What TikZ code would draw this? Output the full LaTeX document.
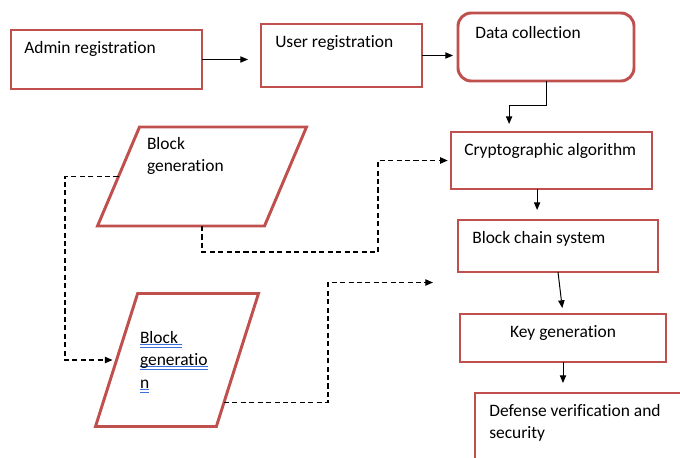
\documentclass[tikz,border=0pt]{standalone}
\usepackage{fontspec}
\setmainfont{Carlito}[Ligatures=NoCommon]
\usetikzlibrary{arrows.meta, positioning, calc, shapes.geometric}
\definecolor{boxred}{RGB}{192,80,77}
\definecolor{spellblue}{RGB}{60,110,220}
\newlength{\spellwd}
\newcommand{\spelluline}[1]{\leavevmode\settowidth{\spellwd}{#1}%
    \rlap{\textcolor{spellblue}{\rule[-1pt]{\spellwd}{0.45pt}%
    \hspace{-\spellwd}\rule[-3pt]{\spellwd}{0.45pt}}}#1}

\begin{document}
\begin{tikzpicture}[
    box/.style={rectangle, draw=boxred, line width=2.1pt,
                anchor=north west, outer sep=0pt, inner sep=0pt},
    txt/.style={anchor=north west, inner xsep=0.35cm,
                inner ysep=0.27cm, align=left,
                font=\fontsize{12.4pt}{16pt}\selectfont},
    para/.style={trapezium, draw=boxred, line width=2.1pt,
                 trapezium stretches body, inner sep=0pt,
                 outer sep=0pt, font=\fontsize{12.4pt}{16pt}\selectfont},
    arr/.style={-{Triangle[length=5.5pt, width=4.5pt]}, line width=0.7pt},
    dasharr/.style={arr, line width=0.95pt, dash pattern=on 3.6pt off 2.4pt}
]
    \clip (0,0) rectangle (17,-11.425);

    \node[box, minimum width=4.775cm, minimum height=1.475cm,
          label={[txt, inner xsep=0.325cm]north west:Admin registration}]
        (admin) at (0.275,-0.75) {};
    \node[box, minimum width=4.025cm, minimum height=1.575cm,
          label={[txt]north west:User registration}]
        (user) at (6.525,-0.6) {};
    \node[box, rounded corners=0.33cm, minimum width=4.4cm, minimum height=1.7cm,
          label={[txt, inner xsep=0.425cm, inner ysep=0.32cm]north west:Data collection}]
        (data) at (11.45,-0.325) {};
    \node[box, minimum width=5.025cm, minimum height=1.425cm,
          label={[txt, inner xsep=0.325cm]north west:Cryptographic algorithm}]
        (crypto) at (11.275,-3.3) {};
    \node[box, minimum width=5cm, minimum height=1.3cm,
          label={[txt]north west:Block chain system}]
        (chain) at (11.45,-5.5) {};
    \node[box, minimum width=5.15cm, minimum height=1.2cm,
          label={[txt, anchor=north]north:Key generation}]
        (key) at (11.5,-7.85) {};
    \node[box, minimum width=5.75cm, minimum height=2.25cm,
          label={[txt]north west:Defense verification and\\security}]
        (defense) at (11.875,-9.825) {};

    \node[para, trapezium left angle=62, trapezium right angle=118,
          minimum width=5.225cm, minimum height=2.475cm] (gen1) at (5.05,-4.4125)
        {\parbox[t][1.975cm][t]{2.75cm}{Block\\generation}};
    \node[para, trapezium left angle=54, trapezium right angle=126,
          minimum width=4.075cm, minimum height=3.325cm] (gen2) at (4.425,-9)
        {\parbox[t][1.45cm][t]{1.85cm}{\spelluline{Block~}\\
         \spelluline{generatio}\\\spelluline{n}}};

    \coordinate (loose) at (10.825,-7.0625);

    \draw[arr, shorten >=0.325cm] (admin.east) -- (admin.east -| user.west);
    \draw[arr, shorten >=0.125cm] (user.east) -- (user.east -| data.west);
    \draw[arr, shorten >=0.2cm] (data.south) -- ++(0,-0.6)
        -| ($(crypto.north)+(-1.06,0)$);
    \draw[arr, shorten >=0.25cm] ([xshift=-0.36cm]crypto.south)
        -- ([xshift=-0.36cm]crypto.south |- chain.north);
    \draw[arr, shorten >=0.15cm] (chain.south) -- (key.north);
    \draw[arr, shorten >=0.25cm] (key.south) -- (key.south |- defense.north);

    \draw[dasharr, shorten >=0.1cm] (gen1.west) -- ++(-1.34,0) |- (gen2.west);
    \draw[dasharr, shorten >=0.08cm] (gen1.south) -- ++(0,-0.65)
        -| ($(crypto.west)+(-1.825,0)$) -- (crypto.west);
    \draw[dasharr] ($(gen2.bottom right corner)!0.18!(gen2.top right corner)$)
        -| ($(loose)+(-2.625,0)$) -- (loose);
\end{tikzpicture}
\end{document}
